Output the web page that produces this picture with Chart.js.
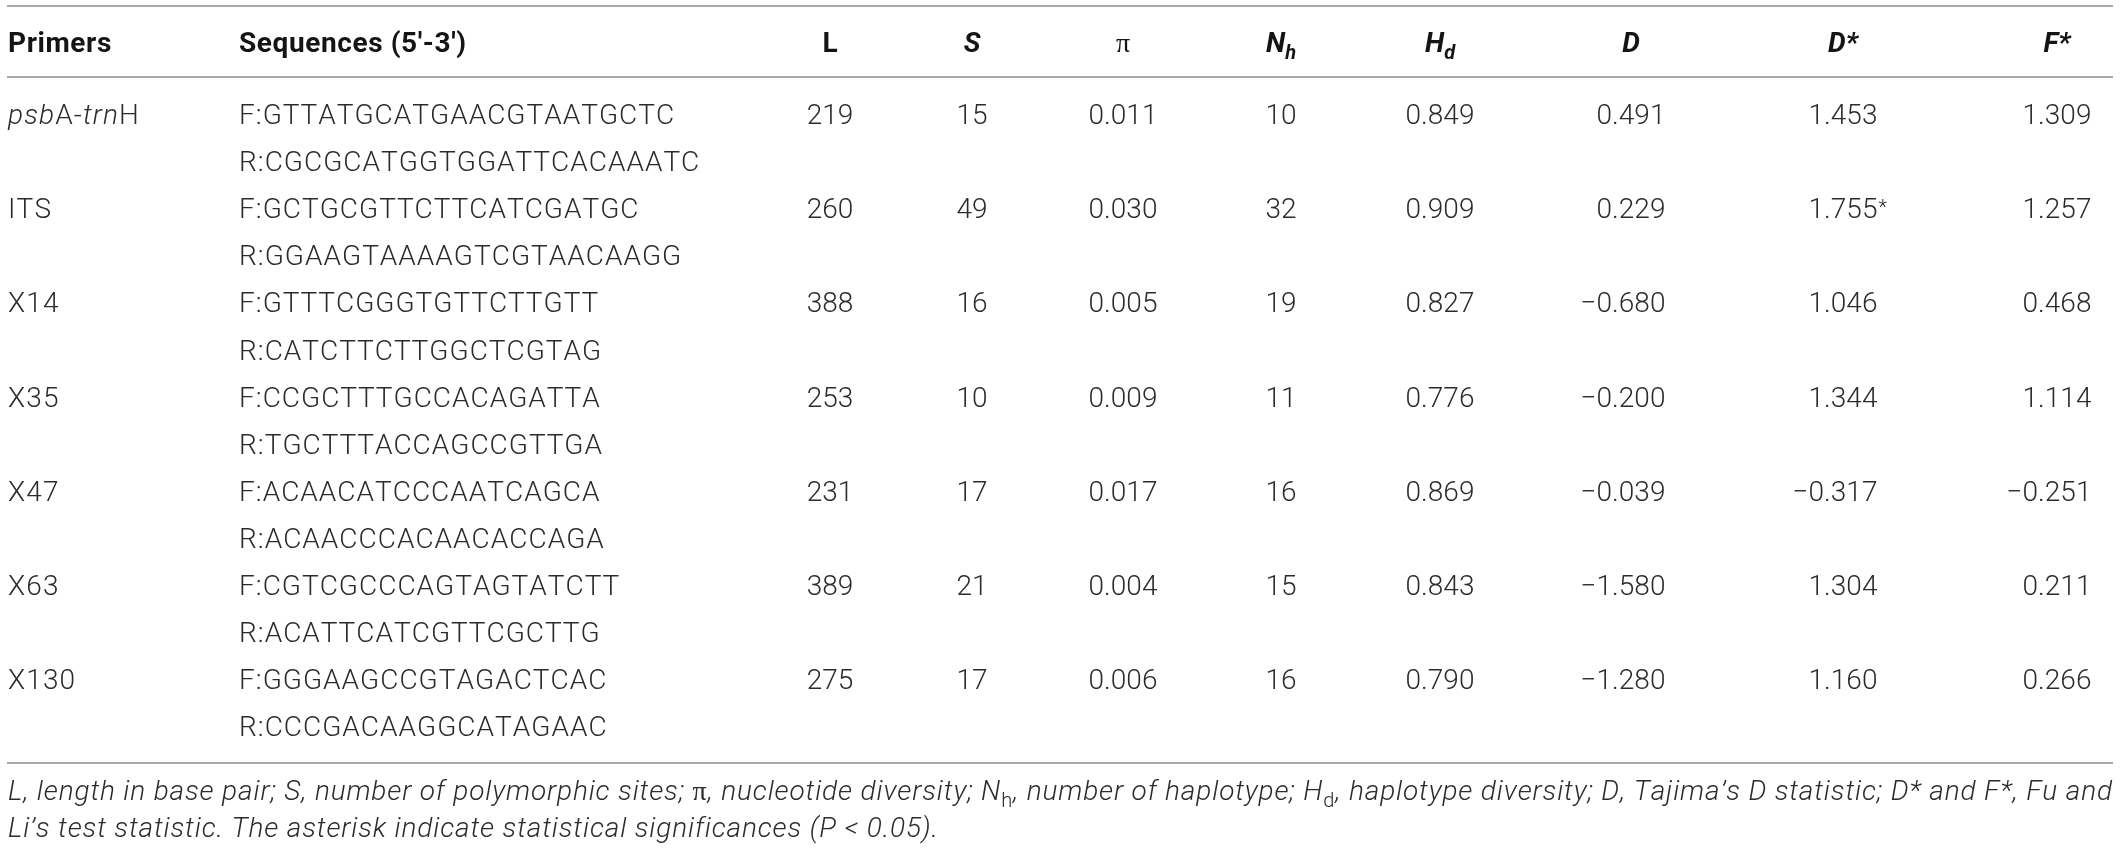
<!DOCTYPE html>
<html>
<head>
<meta charset="utf-8">
<title>Primers and diversity statistics</title>
<script src="https://cdn.jsdelivr.net/npm/chart.js@4.4.1/dist/chart.umd.min.js"></script>
<style>
  html, body { margin: 0; padding: 0; background: #fff; }
  #wrap { width: 2120px; height: 849px; position: relative; }
</style>
</head>
<body>
<div id="wrap"><canvas id="tableChart"></canvas></div>
<script>
// table content
const headers = ['Primers', 'Sequences (5′-3′)', 'L', 'S', 'π', 'Nh', 'Hd', 'D', 'D*', 'F*']
const primers = ['psbA-trnH', 'ITS', 'X14', 'X35', 'X47', 'X63', 'X130']
const forwardSeqs = ['F:GTTATGCATGAACGTAATGCTC', 'F:GCTGCGTTCTTCATCGATGC', 'F:GTTTCGGGTGTTCTTGTT',
  'F:CCGCTTTGCCACAGATTA', 'F:ACAACATCCCAATCAGCA', 'F:CGTCGCCCAGTAGTATCTT', 'F:GGGAAGCCGTAGACTCAC']
const reverseSeqs = ['R:CGCGCATGGTGGATTCACAAATC', 'R:GGAAGTAAAAGTCGTAACAAGG', 'R:CATCTTCTTGGCTCGTAG',
  'R:TGCTTTACCAGCCGTTGA', 'R:ACAACCCACAACACCAGA', 'R:ACATTCATCGTTCGCTTG', 'R:CCCGACAAGGCATAGAAC']
const lengths = [219, 260, 388, 253, 231, 389, 275]
const polySites = [15, 49, 16, 10, 17, 21, 17]
const nucDiversity = [0.011, 0.030, 0.005, 0.009, 0.017, 0.004, 0.006]
const haplotypes = [10, 32, 19, 11, 16, 15, 16]
const hapDiversity = [0.849, 0.909, 0.827, 0.776, 0.869, 0.843, 0.790]
const tajimaD = [0.491, 0.229, -0.680, -0.200, -0.039, -1.580, -1.280]
const fuLiD = [1.453, 1.755, 1.046, 1.344, -0.317, 1.304, 1.160]
const fuLiF = [1.309, 1.257, 0.468, 1.114, -0.251, 0.211, 0.266]
const fuLiDSignificant = [false, true, false, false, false, false, false]

const footnoteLine1 = 'L, length in base pair; S, number of polymorphic sites; π, nucleotide diversity; N_h, number of haplotype; H_d, haplotype diversity; D, Tajima’s D statistic; D* and F*, Fu and'
const footnoteLine2 = 'Li’s test statistic. The asterisk indicate statistical significances (P < 0.05).'

// layout (x in px, y in text lines)
const colX = [8, 239, 830, 972, 1123, 1281, 1440, 1631, 1843, 2057]
const headerLine = -1.53
const ruleLines = [-2.505, -0.998, 13.567]
const footLines = [14.35, 15.14]
const ruleFrom = 7
const ruleTo = 2113
const footRight = 2112

const SANS = '"Roboto", "Liberation Sans", Arial, sans-serif'
const SERIF = '"Liberation Serif", "DejaVu Serif", serif'
const SIZE = 28
const SUB = 20

const fontOf = (r, size) => {
  const fam = r.serif ? SERIF : SANS
  return `${r.i ? 'italic ' : ''}${r.b ? 700 : 300} ${size}px ${fam}`
}

// turn "N_h" style text into runs with a subscript
const subRuns = (text, base) => {
  const runs = []
  text.split(/(_[a-z])/).forEach(part => {
    if (!part) return
    if (part[0] === '_') runs.push({ ...base, t: part[1], sub: true, i: false })
    else runs.push({ ...base, t: part })
  })
  return runs
}

const headerRuns = (label) => {
  if (label === 'π') return [{ t: 'π', serif: true }]
  if (label === 'Primers' || label.startsWith('Sequences') || label === 'L') return [{ t: label, b: true }]
  if (label === 'Nh' || label === 'Hd') return [{ t: label[0], b: true, i: true }, { t: label[1], b: true, i: true, sub: true }]
  return [{ t: label, b: true, i: true }]
}

const primerRuns = (name) => {
  if (name === 'psbA-trnH') return [{ t: 'psb', i: true }, { t: 'A-' }, { t: 'trn', i: true }, { t: 'H' }]
  return [{ t: name }]
}

const fmt = (v) => v.toFixed(3).replace('-', '−')

// cells: one point per text item
const cells = []
headers.forEach((h, c) => {
  cells.push({ x: colX[c], y: headerLine, runs: headerRuns(h), align: c < 2 ? 'left' : 'center', head: true, sp: c < 2 ? 0.6 : 0 })
})
primers.forEach((p, i) => {
  const line = 2 * i
  cells.push({ x: colX[0], y: line, runs: primerRuns(p), align: 'left', sp: 1.1 })
  cells.push({ x: colX[1], y: line, runs: [{ t: forwardSeqs[i] }], align: 'left', sp: 1 })
  cells.push({ x: colX[1], y: line + 1, runs: [{ t: reverseSeqs[i] }], align: 'left', sp: 1 })
  cells.push({ x: colX[2], y: line, runs: [{ t: String(lengths[i]) }], align: 'center', sp: 0 })
  cells.push({ x: colX[3], y: line, runs: [{ t: String(polySites[i]) }], align: 'center', sp: 0 })
  cells.push({ x: colX[4], y: line, num: fmt(nucDiversity[i]) })
  cells.push({ x: colX[5], y: line, runs: [{ t: String(haplotypes[i]) }], align: 'center', sp: 0 })
  cells.push({ x: colX[6], y: line, num: fmt(hapDiversity[i]) })
  cells.push({ x: colX[7], y: line, num: fmt(tajimaD[i]) })
  cells.push({ x: colX[8], y: line, num: fmt(fuLiD[i]), star: fuLiDSignificant[i] })
  cells.push({ x: colX[9], y: line, num: fmt(fuLiF[i]) })
})

const footRuns1 = []
footnoteLine1.split(/(π)/).forEach(part => {
  if (part === 'π') footRuns1.push({ t: 'π', serif: true })
  else if (part) footRuns1.push(...subRuns(part, { i: true }))
})
const footRuns2 = footnoteLine2.split(/(P)/).filter(s => s).map(s => ({ t: s, i: true }))
const footCell1 = { x: colX[0], y: footLines[0], runs: footRuns1, align: 'left', foot: true, sp: null }
const footCell2 = { x: colX[0], y: footLines[1], runs: footRuns2, align: 'left', foot: true, sp: null }
cells.push(footCell1, footCell2)

// character by character, so the tracking can be set
const runWidth = (ctx, r, sp) => {
  ctx.font = fontOf(r, r.sub ? SUB : SIZE)
  let w = 0
  for (const ch of r.t) w += ctx.measureText(ch).width + sp
  return w
}

const drawRuns = (ctx, runs, x, y, align, color, sp) => {
  const total = runs.reduce((s, r) => s + runWidth(ctx, r, sp), 0) - sp
  let cx = align === 'center' ? x - total / 2 : align === 'right' ? x - total : x
  ctx.fillStyle = color
  ctx.textAlign = 'left'
  runs.forEach(r => {
    ctx.font = fontOf(r, r.sub ? SUB : SIZE)
    for (const ch of r.t) {
      ctx.fillText(ch, cx, y + (r.sub ? 7 : 0))
      cx += ctx.measureText(ch).width + sp
    }
  })
}

// numbers are aligned on the decimal point, "0.000" centred on the column
const drawNumber = (ctx, text, x, y, star) => {
  ctx.font = fontOf({}, SIZE)
  const tmpl = ctx.measureText('0.000').width
  const dot = x - tmpl / 2 + ctx.measureText('0').width
  const k = text.indexOf('.')
  ctx.fillStyle = '#2b2b2b'
  ctx.textAlign = 'right'
  ctx.fillText(text.slice(0, k), dot, y)
  ctx.textAlign = 'left'
  ctx.fillText(text.slice(k), dot, y)
  if (star) {
    const end = dot + ctx.measureText(text.slice(k)).width
    ctx.font = fontOf({}, SUB)
    ctx.fillText('*', end + 1, y - 4)
  }
}

const tablePlugin = {
  id: 'tableText',
  beforeDatasetsDraw(chart) {
    const { ctx, scales: { x, y } } = chart
    ctx.save()
    ctx.strokeStyle = '#a9a9a9'
    ctx.lineWidth = 2
    ruleLines.forEach(v => {
      const py = Math.round(y.getPixelForValue(v))
      ctx.beginPath()
      ctx.moveTo(x.getPixelForValue(ruleFrom), py)
      ctx.lineTo(x.getPixelForValue(ruleTo), py)
      ctx.stroke()
    })
    ctx.restore()
  },
  afterDatasetsDraw(chart) {
    const { ctx, scales: { x } } = chart
    const meta = chart.getDatasetMeta(0)
    ctx.save()
    ctx.textBaseline = 'alphabetic'
    // footnote tracking: stretch the first line to the table width
    if (footCell1.sp === null) {
      const natural = footRuns1.reduce((s, r) => s + runWidth(ctx, r, 0), 0)
      const chars = footRuns1.reduce((s, r) => s + [...r.t].length, 0)
      const target = x.getPixelForValue(footRight) - x.getPixelForValue(colX[0])
      footCell1.sp = Math.max(0, (target - natural) / (chars - 1))
      footCell2.sp = footCell1.sp
    }
    meta.data.forEach((pt, k) => {
      const cell = cells[k]
      if (cell.num) drawNumber(ctx, cell.num, pt.x, pt.y, cell.star)
      else drawRuns(ctx, cell.runs, pt.x, pt.y, cell.align, cell.head ? '#141414' : '#2b2b2b', cell.sp)
    })
    ctx.restore()
  }
}

new Chart(document.getElementById('tableChart'), {
  type: 'scatter',
  data: {
    datasets: [{
      label: 'cells',
      data: cells.map(c => ({ x: c.x, y: c.y })),
      pointRadius: 0,
      pointHoverRadius: 0
    }]
  },
  options: {
    responsive: true,
    maintainAspectRatio: false,
    animation: false,
    events: [],
    layout: { padding: 0 },
    plugins: { legend: { display: false }, tooltip: { enabled: false } },
    scales: {
      x: { type: 'linear', display: false, min: 0, max: 2120 },
      y: { type: 'linear', display: false, reverse: true, min: -124 / 47.1, max: (849 - 124) / 47.1 }
    }
  },
  plugins: [tablePlugin]
})
</script>
</body>
</html>
